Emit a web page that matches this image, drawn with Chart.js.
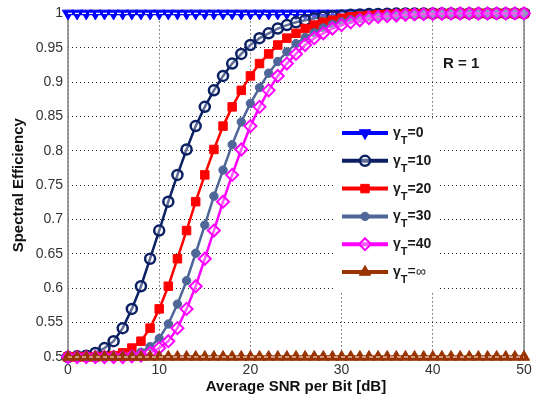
<!DOCTYPE html>
<html><head><meta charset="utf-8">
<script src="https://cdn.jsdelivr.net/npm/chart.js@4.4.0/dist/chart.umd.min.js"></script>
<style>html,body{margin:0;padding:0;background:#fff;}#wrap{width:538px;height:399px;position:relative;}</style>
</head><body><div id="wrap"><canvas id="c" width="538" height="399"></canvas></div>
<script>
// ---- data ----
const snrDb = [0,1,2,3,4,5,6,7,8,9,10,11,12,13,14,15,16,17,18,19,20,21,22,23,24,25,26,27,28,29,30,31,32,33,34,35,36,37,38,39,40,41,42,43,44,45,46,47,48,49,50];
const seGamma0 = [1,1,1,1,1,1,1,1,1,1,1,1,1,1,1,1,1,1,1,1,1,1,1,1,1,1,1,1,1,1,1,1,1,1,1,1,1,1,1,1,1,1,1,1,1,1,1,1,1,1,1];
const seGamma10 = [0.500,0.501,0.502,0.506,0.513,0.523,0.542,0.570,0.603,0.643,0.684,0.726,0.765,0.802,0.836,0.864,0.888,0.909,0.927,0.941,0.954,0.964,0.971,0.978,0.983,0.987,0.990,0.993,0.995,0.996,0.997,0.998,0.9985,0.999,0.9993,0.9995,0.9997,0.9998,0.9998,0.9999,0.9999,1,1,1,1,1,1,1,1,1,1];
const seGamma20 = [0.500,0.500,0.500,0.500,0.501,0.502,0.506,0.513,0.523,0.542,0.570,0.603,0.643,0.684,0.726,0.765,0.802,0.836,0.864,0.888,0.909,0.927,0.941,0.954,0.964,0.971,0.978,0.983,0.987,0.990,0.993,0.995,0.996,0.997,0.998,0.9985,0.999,0.9993,0.9995,0.9997,0.9998,0.9998,0.9999,0.9999,1,1,1,1,1,1,1];
const seGamma30 = [0.500,0.500,0.500,0.500,0.500,0.500,0.501,0.503,0.507,0.515,0.527,0.548,0.577,0.611,0.651,0.692,0.734,0.772,0.809,0.842,0.869,0.892,0.913,0.930,0.944,0.956,0.965,0.972,0.979,0.984,0.988,0.991,0.993,0.995,0.996,0.997,0.998,0.9986,0.9991,0.9994,0.9996,0.9997,0.9998,0.9998,0.9999,0.9999,1,1,1,1,1];
const seGamma40 = [0.500,0.500,0.500,0.500,0.500,0.500,0.500,0.501,0.502,0.506,0.513,0.523,0.542,0.570,0.603,0.643,0.684,0.726,0.765,0.802,0.836,0.864,0.888,0.909,0.927,0.941,0.954,0.964,0.971,0.978,0.983,0.987,0.990,0.993,0.995,0.996,0.997,0.998,0.9985,0.999,0.9993,0.9995,0.9997,0.9998,0.9998,0.9999,0.9999,1,1,1,1];
const seGammaInf = [0.5,0.5,0.5,0.5,0.5,0.5,0.5,0.5,0.5,0.5,0.5,0.5,0.5,0.5,0.5,0.5,0.5,0.5,0.5,0.5,0.5,0.5,0.5,0.5,0.5,0.5,0.5,0.5,0.5,0.5,0.5,0.5,0.5,0.5,0.5,0.5,0.5,0.5,0.5,0.5,0.5,0.5,0.5,0.5,0.5,0.5,0.5,0.5,0.5,0.5,0.5];
const gammaLabels = ['0','10','20','30','40','\u221e'];
const xTicks = [0,10,20,30,40,50];
const yTicks = [0.5,0.55,0.6,0.65,0.7,0.75,0.8,0.85,0.9,0.95,1];
const yTickLabels = ['0.5','0.55','0.6','0.65','0.7','0.75','0.8','0.85','0.9','0.95','1'];
const xTitle = 'Average SNR per Bit [dB]';
const yTitle = 'Spectral Efficiency';
const noteText = 'R = 1';

const pts = arr => snrDb.map((x,i)=>({x:x,y:arr[i]}));
const FONT = "'Liberation Sans', Arial, Helvetica, sans-serif";

const series = [
  {g:0, data:seGamma0,  color:'#0000ff', style:'triangle', rot:180, r:6.5, bw:1, fill:true,  lw:3.5, order:7},
  {g:1, data:seGamma10, color:'#0b2163', style:'circle',   rot:0,   r:5,   bw:2.5, fill:false, lw:2.5, order:5},
  {g:2, data:seGamma20, color:'#ff0000', style:'rect',     rot:0,   r:6,   bw:1, fill:true,  lw:2.5, order:4},
  {g:3, data:seGamma30, color:'#4f6698', style:'circle',   rot:0,   r:4.2, bw:1, fill:true,  lw:2.5, order:3},
  {g:4, data:seGamma40, color:'#ff00ff', style:'rectRot',  rot:0,   r:6,   bw:2, fill:false, lw:2.5, order:2},
  {g:5, data:seGammaInf,color:'#993300', style:'triangle', rot:0,   r:6.5, bw:1, fill:true,  lw:3.5, order:1},
];

const datasets = series.map(s=>({
  label: '\u03b3T=' + gammaLabels[s.g],
  data: pts(s.data),
  borderColor: s.color,
  backgroundColor: s.fill ? s.color : 'rgba(255,255,255,0.35)',
  borderWidth: s.lw,
  pointStyle: s.style,
  pointRotation: s.rot,
  pointRadius: s.r,
  pointBorderWidth: s.bw,
  pointBorderColor: s.color,
  pointBackgroundColor: s.fill ? s.color : 'rgba(255,255,255,0.35)',
  tension: 0,
  order: s.order,
  clip: false
}));
// white dashed stroke through the flat reference lines
datasets.push({label:'', data:pts(seGamma0), borderColor:'#ffffff', borderWidth:1.2, borderDash:[4,3], pointRadius:0, order:6, clip:false});
datasets.push({label:'', data:pts(seGammaInf), borderColor:'#ffffff', borderWidth:1.2, borderDash:[4,3], pointRadius:0, order:0, clip:false});

function drawMarker(ctx, s, x, y){
  ctx.save();
  ctx.translate(x,y);
  ctx.rotate(s.rot*Math.PI/180);
  ctx.beginPath();
  const r = s.r;
  if (s.style==='circle'){ ctx.arc(0,0,r,0,Math.PI*2); }
  else if (s.style==='rect'){ const h=r*Math.SQRT1_2; ctx.rect(-h,-h,2*h,2*h); }
  else if (s.style==='rectRot'){ ctx.moveTo(0,-r); ctx.lineTo(r,0); ctx.lineTo(0,r); ctx.lineTo(-r,0); ctx.closePath(); }
  else if (s.style==='triangle'){ ctx.moveTo(0, -r); ctx.lineTo(Math.sin(2*Math.PI/3)*r, -Math.cos(2*Math.PI/3)*r); ctx.lineTo(Math.sin(4*Math.PI/3)*r, -Math.cos(4*Math.PI/3)*r); ctx.closePath(); }
  ctx.fillStyle = s.fill ? s.color : 'rgba(255,255,255,0.35)';
  ctx.fill();
  ctx.lineWidth = s.bw; ctx.strokeStyle = s.color; ctx.stroke();
  ctx.restore();
}

const framePlugin = {
  id:'frame',
  beforeDatasetsDraw(chart){
    const {ctx, chartArea:a} = chart;
    ctx.save(); ctx.strokeStyle='#808080'; ctx.lineWidth=1.5;
    ctx.strokeRect(a.left, a.top, a.right-a.left, a.bottom-a.top);
    ctx.restore();
  }
};

const legendPlugin = {
  id:'customLegend',
  afterDatasetsDraw(chart){
    const ctx = chart.ctx;
    ctx.save();
    ctx.fillStyle='#ffffff';
    ctx.fillRect(333,119,107,173);
    const rowY0 = 133, rowDy = 27.8;
    series.forEach((s,i)=>{
      const y = rowY0 + i*rowDy;
      ctx.beginPath(); ctx.moveTo(342,y); ctx.lineTo(388,y);
      ctx.strokeStyle=s.color; ctx.lineWidth=4; ctx.stroke();
      drawMarker(ctx, s, 365, y);
      ctx.fillStyle='#1a1a1a';
      ctx.textBaseline='alphabetic'; ctx.textAlign='left';
      ctx.font = 'bold 14px '+FONT;
      let x = 393;
      ctx.fillText('\u03b3', x, y+4); x += ctx.measureText('\u03b3').width;
      ctx.font = 'bold 11px '+FONT;
      ctx.fillText('T', x, y+11); x += ctx.measureText('T').width;
      ctx.font = (gammaLabels[i]==='\u221e' ? '' : 'bold ') + '14px '+FONT;
      ctx.fillText('=' + gammaLabels[i], x, y+4);
    });
    ctx.font='bold 15px '+FONT; ctx.fillStyle='#1a1a1a'; ctx.textBaseline='middle';
    ctx.fillText(noteText, 443, 64);
    ctx.restore();
  }
};

new Chart(document.getElementById('c'), {
  type:'line',
  data:{datasets},
  options:{
    responsive:false, animation:false, devicePixelRatio:1,
    layout:{padding:{left:0,right:14,top:12,bottom:0}},
    plugins:{legend:{display:false}, tooltip:{enabled:false}},
    scales:{
      x:{type:'linear', min:0, max:50,
        afterFit(s){ s.height = 42; },
        afterBuildTicks(s){ s.ticks = xTicks.map(v=>({value:v})); },
        ticks:{font:{family:FONT,size:14}, color:'#333333', padding:5, maxRotation:0, autoSkip:false},
        grid:{color:'#222222', lineWidth:1, drawTicks:false},
        border:{display:false, dash:[1,3]},
        title:{display:true, text:xTitle, font:{family:FONT,size:15,weight:'bold'}, color:'#111111', padding:{top:0,bottom:3}}
      },
      y:{type:'linear', min:0.5, max:1,
        afterFit(s){ s.width = 68; },
        afterBuildTicks(s){ s.ticks = yTicks.map(v=>({value:v})); },
        ticks:{font:{family:FONT,size:14}, color:'#333333', padding:5, autoSkip:false,
          callback:(v,i)=>yTickLabels[i]},
        grid:{color:'#222222', lineWidth:1, drawTicks:false},
        border:{display:false, dash:[1,3]},
        title:{display:true, text:yTitle, font:{family:FONT,size:15,weight:'bold'}, color:'#111111', padding:{top:10,bottom:0}}
      }
    }
  },
  plugins:[framePlugin, legendPlugin]
});
</script></body></html>
